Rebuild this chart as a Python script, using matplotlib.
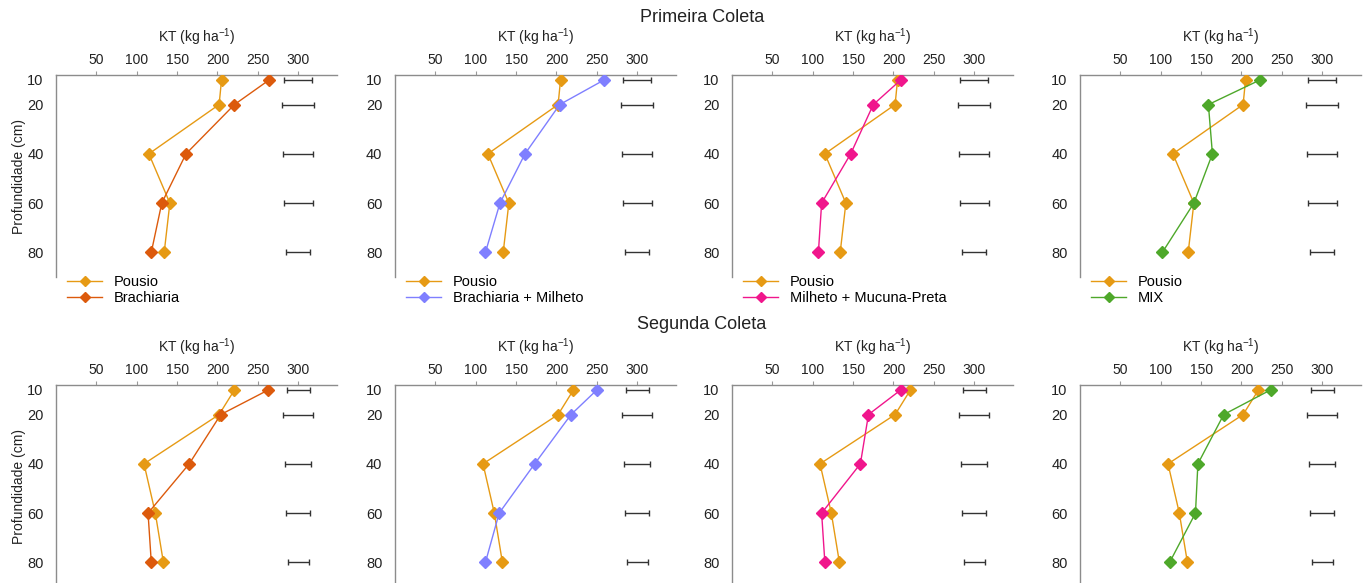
import matplotlib
matplotlib.use("Agg")
import matplotlib.pyplot as plt

plt.rcParams['font.family'] = ['Liberation Sans', 'DejaVu Sans']

depths = [10, 20, 40, 60, 80]
xticks = [50, 100, 150, 200, 250, 300]

# Primeira Coleta
pousio_1 = [205, 202, 115, 141, 134]
brach_1 = [264, 221, 161, 131, 118]
brach_mil_1 = [259, 204, 161, 130, 112]
mil_muc_1 = [209, 175, 147, 111, 107]
mix_1 = [223, 159, 164, 141, 102]
err_1 = [17.5, 20, 18.5, 18, 15]

# Segunda Coleta
pousio_2 = [221, 202, 109, 123, 133]
brach_2 = [263, 204, 165, 114, 118]
brach_mil_2 = [250, 218, 173, 129, 112]
mil_muc_2 = [209, 169, 159, 111, 115]
mix_2 = [236, 178, 146, 143, 111]
err_2 = [14.5, 18.5, 16, 15, 13]

err_center = 300

treat_names = ["Brachiaria", "Brachiaria + Milheto", "Milheto + Mucuna-Preta", "MIX"]
treat_colors = ["#DC5A0C", "#7F7FFF", "#F0168C", "#4EA82A"]
pousio_color = "#E69A14"

rows = [
    ("Primeira Coleta", pousio_1, [brach_1, brach_mil_1, mil_muc_1, mix_1], err_1),
    ("Segunda Coleta", pousio_2, [brach_2, brach_mil_2, mil_muc_2, mix_2], err_2),
]

W, H = 1368, 583
fig = plt.figure(figsize=(W / 100, H / 100), dpi=100)

lefts_px = [56, 395, 732, 1080]
ax_w_px = 281
ax_h_px = 202
tops_px = [75, 385]
title_y_px = [17, 325]

for r, (title, pousio, treats, err) in enumerate(rows):
    fig.text(702 / W, 1 - title_y_px[r] / H, title, ha="center", va="center",
             fontsize=13, color="#222222")
    for c in range(4):
        bottom = 1 - (tops_px[r] + ax_h_px) / H
        ax = fig.add_axes([lefts_px[c] / W, bottom, ax_w_px / W, ax_h_px / H])
        ax.plot(pousio, depths, color=pousio_color, lw=1.0, marker="D", ms=5.8,
                mec=pousio_color, mfc=pousio_color, label="Pousio", zorder=3)
        ax.plot(treats[c], depths, color=treat_colors[c], lw=1.0, marker="D", ms=5.8,
                mec=treat_colors[c], mfc=treat_colors[c], label=treat_names[c], zorder=3)
        ax.errorbar([err_center] * len(depths), depths, xerr=err, fmt="none",
                    ecolor="#333333", elinewidth=1.0, capsize=2.5, capthick=1.0)
        ax.set_xlim(0, 348)
        ax.set_ylim(90, 8)
        ax.set_xticks(xticks)
        ax.set_yticks(depths)
        ax.xaxis.tick_top()
        ax.xaxis.set_label_position("top")
        ax.set_xlabel(r"KT (kg ha$^{\mathregular{-1}}$)", fontsize=10, labelpad=8,
                      color="#222222")
        ax.tick_params(axis="x", length=3, width=0.8, color="#999999", pad=3,
                       labelsize=10, labelcolor="#222222")
        ax.tick_params(axis="y", length=0, pad=9, labelsize=10.5, labelcolor="#222222")
        for s in ("right", "bottom"):
            ax.spines[s].set_visible(False)
        for s in ("top", "left"):
            ax.spines[s].set_color("#8c8c8c")
            ax.spines[s].set_linewidth(1.0)
        if c == 0:
            ax.set_ylabel("Profundidade (cm)", fontsize=10, labelpad=1, color="#222222")
        if r == 0:
            leg = ax.legend(loc="upper left", bbox_to_anchor=(0.02, 0.04),
                            frameon=False, fontsize=10.5, handlelength=2.4,
                            labelspacing=0.15, borderaxespad=0, handletextpad=0.8,
                            markerscale=0.85)

fig.savefig("out.png", dpi=100)
